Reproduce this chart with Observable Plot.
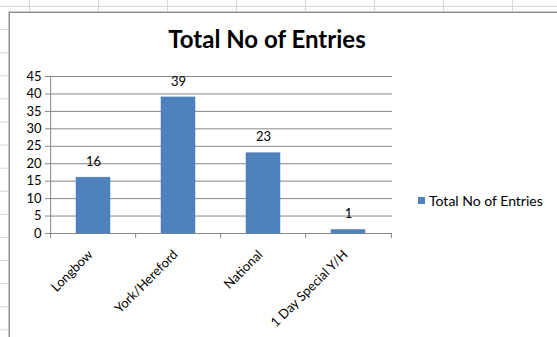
<!DOCTYPE html>
<html>
<head>
<meta charset="utf-8">
<script src="https://cdn.jsdelivr.net/npm/d3@7"></script>
<script src="https://cdn.jsdelivr.net/npm/@observablehq/plot@0.6"></script>
<style>
  html, body { margin: 0; padding: 0; }
  body {
    width: 557px; height: 337px; overflow: hidden; position: relative;
    background-color: #fff;
    background-image:
      linear-gradient(to right, #d4d6d8 1px, transparent 1px),
      linear-gradient(to bottom, #d4d6d8 1px, transparent 1px);
    background-size: 69px 23.1px;
    background-position: 29px 6px;
    font-family: Lato, "Open Sans", sans-serif;
  }
  #box {
    position: absolute; left: 9px; top: 12px; width: 600px; height: 400px;
    background: #fff; border: 1px solid #8e8e8e;
    box-shadow: 0 0 0 1px #c8c8c8;
  }
  #title {
    position: absolute; left: 0; width: 534px; top: 24px; text-align: center;
    font-weight: 700; font-size: 24px; color: #000;
  }
  #legend {
    position: absolute; left: 418px; top: 192px; font-size: 14px; color: #000;
    display: flex; align-items: center; gap: 4px;
  }
  #legend .sw { width: 7px; height: 7px; background: #4f81bd; display: inline-block; }
  #chart { position: absolute; left: 0; top: 0; }
</style>
</head>
<body>
<div id="box"></div>
<div id="title">Total No of Entries</div>
<div id="legend"><span class="sw"></span><span>Total No of Entries</span></div>
<div id="chart"></div>
<script>
const categories = ["Longbow", "York/Hereford", "National", "1 Day Special Y/H"];
const values = [16, 39, 23, 1];
const yTicks = [0, 5, 10, 15, 20, 25, 30, 35, 40, 45];
const seriesName = "Total No of Entries";

const data = categories.map((c, i) => ({category: c, value: values[i]}));

const W = 557, H = 337;
const mL = 49, mR = 165, mT = 76, mB = 104;
const pInner = 0.6, pOuter = 0.3;
const step = (W - mL - mR) / (categories.length - pInner + 2 * pOuter);
const grid = "#868686";

const plot = Plot.plot({
  width: W, height: H,
  marginLeft: mL, marginRight: mR, marginTop: mT, marginBottom: mB,
  style: {background: "transparent", fontFamily: "Lato, 'Open Sans', sans-serif", fontSize: "13px", color: "#000"},
  x: {domain: categories, paddingInner: pInner, paddingOuter: pOuter, axis: null},
  y: {domain: [0, 45], axis: null},
  marks: [
    Plot.ruleY(yTicks, {stroke: grid, strokeWidth: 1}),
    Plot.ruleX([categories[0]], {y1: 0, y2: 45, dx: -step / 2, stroke: grid}),
    Plot.ruleX(categories, {x: d => d, y1: 0, y2: 0, dx: -step / 2, insetBottom: -5, stroke: grid}),
    Plot.ruleX([categories[categories.length - 1]], {x: d => d, y1: 0, y2: 0, dx: step / 2, insetBottom: -5, stroke: grid}),
    Plot.barY(data, {x: "category", y: "value", fill: "#4f81bd", stroke: "#4a7ebb", strokeWidth: 0.5}),
    Plot.axisY({ticks: yTicks, tickSize: 4, tickPadding: 4, label: null, stroke: grid, fontSize: 13}),
    Plot.text(data, {x: "category", y: "value", text: d => String(d.value), dy: -16, fontSize: 13, fill: "#000"}),
    Plot.axisX({tickSize: 0, tickRotate: -45, tickPadding: 19, dx: -3, label: null, fontSize: 13})
  ]
});
document.getElementById("chart").appendChild(plot);
</script>
</body>
</html>
